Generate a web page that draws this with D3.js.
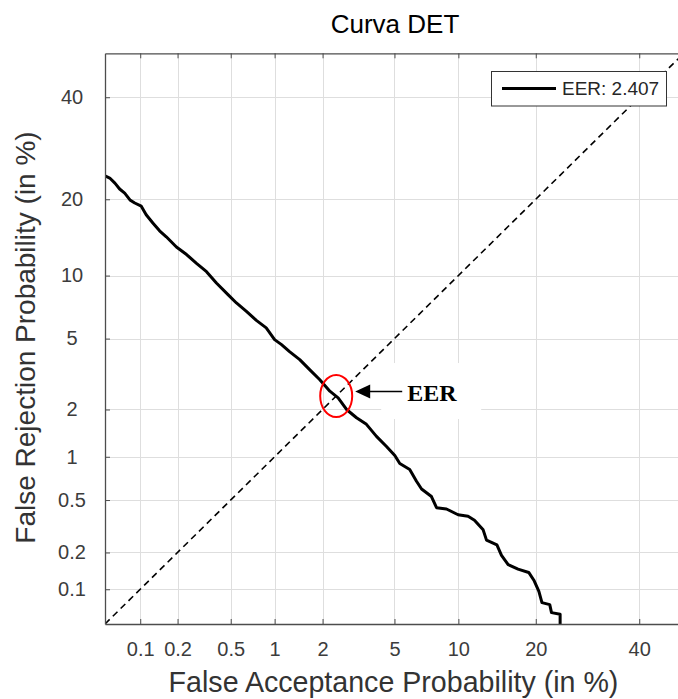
<!DOCTYPE html>
<html>
<head>
<meta charset="utf-8">
<script src="https://cdn.jsdelivr.net/npm/d3@7"></script>
<style>
  body { margin: 0; background: #fff; }
  svg { display: block; font-family: "Liberation Sans", Arial, sans-serif; }
</style>
</head>
<body>
<div id="chart"></div>
<script>
// DET curve values, in %
var farValues = [0.05, 0.055, 0.061, 0.067, 0.074, 0.082, 0.090, 0.102, 0.112, 0.127,
                 0.144, 0.163, 0.196, 0.235, 0.28, 0.333, 0.394, 0.478, 0.549, 0.645,
                 0.755, 0.88, 1.0, 1.11, 1.25, 1.45, 1.67, 1.92, 2.21, 2.47,
                 2.76, 3.14, 3.56, 4.03, 4.55, 5.02, 5.32, 5.96, 6.43, 6.80,
                 7.57, 7.99, 8.86, 9.97, 11.0, 11.7, 12.7, 13.1, 14.4, 15.0,
                 15.9, 17.3, 18.9, 19.7, 20.5, 21.0, 22.3, 22.6, 24.1, 24.1];
var frrValues = [24.0, 23.6, 22.7, 21.7, 21.0, 19.9, 19.4, 18.9, 17.6, 16.4,
                 15.3, 14.5, 13.2, 12.3, 11.3, 10.4, 9.27, 8.2, 7.5, 6.84,
                 6.18, 5.67, 4.94, 4.65, 4.27, 3.87, 3.41, 3.0, 2.57, 2.35,
                 2.0, 1.78, 1.62, 1.36, 1.17, 1.02, 0.90, 0.82, 0.68, 0.60,
                 0.53, 0.44, 0.43, 0.39, 0.38, 0.355, 0.30, 0.25, 0.23, 0.19,
                 0.16, 0.147, 0.138, 0.119, 0.096, 0.077, 0.074, 0.063, 0.061, 0.05];
var axisLimits = [0.05, 50];
var xTickValues = [0.1, 0.2, 0.5, 1, 2, 5, 10, 20, 40];
var xTickLabels = ["0.1", "0.2", "0.5", "1", "2", "5", "10", "20", "40"];
var yTickValues = [0.1, 0.2, 0.5, 1, 2, 5, 10, 20, 40];
var yTickLabels = ["0.1", "0.2", "0.5", "1", "2", "5", "10", "20", "40"];
var eerValue = 2.407;

// inverse normal CDF (Acklam)
function probit(p){
    var a = [-3.969683028665376e+01, 2.209460984245205e+02, -2.759285104469687e+02, 1.383577518672690e+02, -3.066479806614716e+01, 2.506628277459239e+00];
    var b = [-5.447609879822406e+01, 1.615858368580409e+02, -1.556989798598866e+02, 6.680131188771972e+01, -1.328068155288572e+01];
    var c = [-7.784894002430293e-03, -3.223964580411365e-01, -2.400758277161838e+00, -2.549732539343734e+00, 4.374664141464968e+00, 2.938163982698783e+00];
    var d = [7.784695709041462e-03, 3.224671290700398e-01, 2.445134137142996e+00, 3.754408661907416e+00];
    var plow = 0.02425, q, r;
    if (p < plow) {
        q = Math.sqrt(-2 * Math.log(p));
        return (((((c[0]*q+c[1])*q+c[2])*q+c[3])*q+c[4])*q+c[5]) / ((((d[0]*q+d[1])*q+d[2])*q+d[3])*q+1);
    } else if (p <= 1 - plow) {
        q = p - 0.5; r = q*q;
        return (((((a[0]*r+a[1])*r+a[2])*r+a[3])*r+a[4])*r+a[5])*q / (((((b[0]*r+b[1])*r+b[2])*r+b[3])*r+b[4])*r+1);
    }
    q = Math.sqrt(-2 * Math.log(1 - p));
    return -(((((c[0]*q+c[1])*q+c[2])*q+c[3])*q+c[4])*q+c[5]) / ((((d[0]*q+d[1])*q+d[2])*q+d[3])*q+1);
}
function pz(v){ return probit(v / 100); }

var W = 678, H = 699;
var plotLeft = 105, plotRight = 683.8, plotTop = 53.3, plotBottom = 624;

var svg = d3.select('#chart').append('svg')
    .attr('width', W)
    .attr('height', H);

// scales on the normal deviate of the probabilities
var Xz = d3.scaleLinear().domain([pz(axisLimits[0]), pz(axisLimits[1])]).range([plotLeft, plotRight]);
var Yz = d3.scaleLinear().domain([pz(axisLimits[0]), pz(axisLimits[1])]).range([plotBottom, plotTop]);
function X(v){ return Xz(pz(v)); }
function Y(v){ return Yz(pz(v)); }

svg.append('clipPath').attr('id', 'plotclip')
    .append('rect')
    .attr('x', plotLeft).attr('y', plotTop)
    .attr('width', plotRight - plotLeft).attr('height', plotBottom - plotTop);

// grid
var grid = svg.append('g').attr('stroke', '#dedede').attr('stroke-width', 1);
grid.selectAll('line.gx').data(xTickValues).enter().append('line')
    .attr('x1', function(d){ return Math.round(X(d)) + 0.5; })
    .attr('x2', function(d){ return Math.round(X(d)) + 0.5; })
    .attr('y1', plotTop).attr('y2', plotBottom);
grid.selectAll('line.gy').data(yTickValues).enter().append('line')
    .attr('y1', function(d){ return Math.round(Y(d)) + 0.5; })
    .attr('y2', function(d){ return Math.round(Y(d)) + 0.5; })
    .attr('x1', plotLeft).attr('x2', plotRight);

// white patch behind the EER note
var ex = X(eerValue), ey = Y(eerValue);
svg.append('rect')
    .attr('x', ex + 45).attr('y', ey - 33)
    .attr('width', 100).attr('height', 56)
    .attr('fill', '#fff');

var plot = svg.append('g').attr('clip-path', 'url(#plotclip)');

// chance diagonal
plot.append('line')
    .attr('x1', X(axisLimits[0])).attr('y1', Y(axisLimits[0]))
    .attr('x2', X(axisLimits[1])).attr('y2', Y(axisLimits[1]))
    .attr('stroke', '#000')
    .attr('stroke-width', 1.6)
    .attr('stroke-dasharray', '6.5,4.5');

// DET curve
var detData = farValues.map(function(f, i){ return {far: f, frr: frrValues[i]}; });
var detLine = d3.line()
    .x(function(d){ return X(d.far); })
    .y(function(d){ return Y(d.frr); });

plot.append('path')
    .datum(detData)
    .attr('d', detLine)
    .attr('fill', 'none')
    .attr('stroke', '#000')
    .attr('stroke-width', 3)
    .attr('stroke-linejoin', 'round');

// axes
var axisColor = '#4d4d4d';
var xAxis = svg.append('g')
    .attr('transform', 'translate(0,' + plotBottom + ')')
    .call(d3.axisBottom(Xz)
        .tickValues(xTickValues.map(pz))
        .tickFormat(function(d, i){ return xTickLabels[i]; })
        .tickSizeInner(-5).tickSizeOuter(0).tickPadding(18));
var yAxis = svg.append('g')
    .attr('transform', 'translate(' + plotLeft + ',0)')
    .call(d3.axisLeft(Yz)
        .tickValues(yTickValues.map(pz))
        .tickFormat(function(d, i){ return yTickLabels[i]; })
        .tickSizeInner(-5).tickSizeOuter(0).tickPadding(0));
var xTop = svg.append('g')
    .attr('transform', 'translate(0,' + plotTop + ')')
    .call(d3.axisTop(Xz)
        .tickValues(xTickValues.map(pz))
        .tickFormat('')
        .tickSizeInner(-5).tickSizeOuter(0));

[xAxis, yAxis, xTop].forEach(function(g){
    g.select('.domain').attr('stroke', axisColor).attr('stroke-width', 1.3);
    g.selectAll('.tick line').attr('stroke', axisColor).attr('stroke-width', 1);
    g.selectAll('.tick text')
        .attr('fill', '#3c3c3c')
        .style('font-size', '20px')
        .style('font-family', '"Liberation Sans", Arial, sans-serif');
});
yAxis.selectAll('.tick text').attr('x', 72 - plotLeft).attr('text-anchor', 'middle');

// title and labels
svg.append('text')
    .attr('x', 395).attr('y', 33)
    .attr('text-anchor', 'middle')
    .attr('fill', '#000')
    .style('font-size', '26px')
    .text('Curva DET');

svg.append('text')
    .attr('x', 393.5).attr('y', 692)
    .attr('text-anchor', 'middle')
    .attr('fill', '#333')
    .style('font-size', '28.6px')
    .text('False Acceptance Probability (in %)');

svg.append('text')
    .attr('transform', 'translate(35,337.5) rotate(-90)')
    .attr('text-anchor', 'middle')
    .attr('fill', '#333')
    .style('font-size', '28px')
    .text('False Rejection Probability (in %)');

// legend
var legend = svg.append('g');
legend.append('rect')
    .attr('x', 491.5).attr('y', 71.5)
    .attr('width', 175).attr('height', 34.5)
    .attr('fill', '#fff')
    .attr('stroke', '#333')
    .attr('stroke-width', 1);
legend.append('line')
    .attr('x1', 502).attr('x2', 556)
    .attr('y1', 88.5).attr('y2', 88.5)
    .attr('stroke', '#000')
    .attr('stroke-width', 3.2);
legend.append('text')
    .attr('x', 562).attr('y', 95)
    .attr('fill', '#262626')
    .style('font-size', '19px')
    .text('EER: ' + eerValue);

// EER note
svg.append('ellipse')
    .attr('cx', ex).attr('cy', ey)
    .attr('rx', 16).attr('ry', 21)
    .attr('fill', 'none')
    .attr('stroke', '#ff0000')
    .attr('stroke-width', 2);
svg.append('line')
    .attr('x1', ex + 30).attr('x2', ex + 66)
    .attr('y1', ey - 4.5).attr('y2', ey - 4.5)
    .attr('stroke', '#000')
    .attr('stroke-width', 1.5);
svg.append('path')
    .attr('d', 'M' + (ex + 19) + ',' + (ey - 4.5) + 'L' + (ex + 34) + ',' + (ey - 11.5) + 'L' + (ex + 34) + ',' + (ey + 2.5) + 'Z')
    .attr('fill', '#000');
svg.append('text')
    .attr('x', ex + 71).attr('y', ey + 5)
    .attr('fill', '#000')
    .style('font-family', '"Liberation Serif", "Times New Roman", serif')
    .style('font-weight', 'bold')
    .style('font-size', '24px')
    .text('EER');
</script>
</body>
</html>
